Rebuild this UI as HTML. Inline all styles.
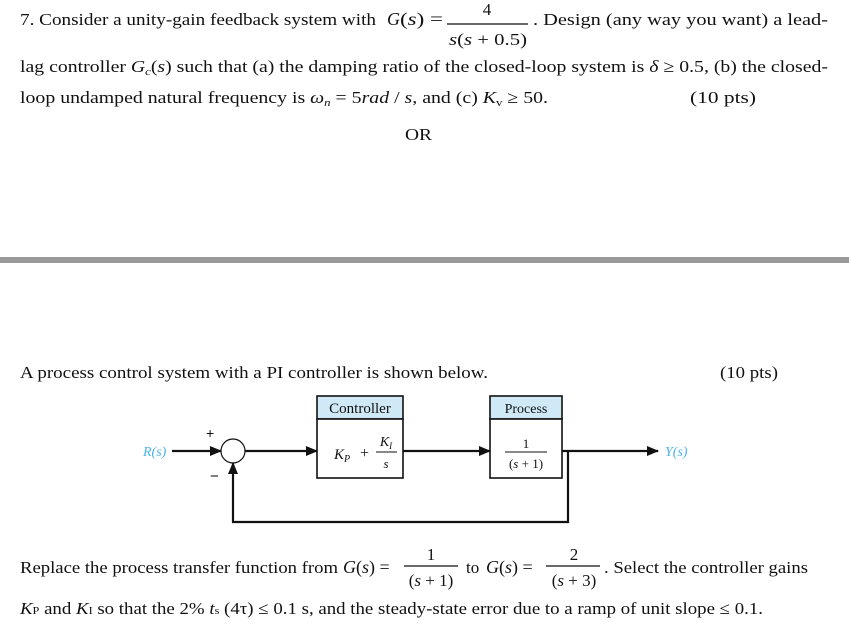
<!DOCTYPE html>
<html><head><meta charset="utf-8"><style>
html,body{margin:0;padding:0;background:#fff;}
svg{display:block;}
text{font-family:"Liberation Serif",serif;fill:#111;}
.i{font-style:italic;}
.s{font-family:"Liberation Sans",sans-serif;}
</style></head><body>
<svg width="849" height="627" viewBox="0 0 849 627" xmlns="http://www.w3.org/2000/svg">
<defs><marker id="a" markerWidth="12" markerHeight="10" refX="11" refY="5" orient="auto" markerUnits="userSpaceOnUse"><path d="M0,0 L12,5 L0,10z" fill="#111"/></marker></defs>
<!-- Problem 7 -->
<text x="20" y="25" font-size="17" textLength="356" lengthAdjust="spacingAndGlyphs">7. Consider a unity-gain feedback system with</text>
<text x="387" y="25" font-size="18" class="i">G</text><text x="400" y="25" font-size="18" textLength="43" lengthAdjust="spacingAndGlyphs">(<tspan class="i">s</tspan>) =</text>
<text x="487" y="15" font-size="17" text-anchor="middle">4</text>
<line x1="447" y1="24" x2="528" y2="24" stroke="#111" stroke-width="1.2"/>
<text x="449" y="45" font-size="17" textLength="78" lengthAdjust="spacingAndGlyphs"><tspan class="i">s</tspan>(<tspan class="i">s</tspan> + 0.5)</text>
<text x="533" y="25" font-size="17" textLength="295" lengthAdjust="spacingAndGlyphs">. Design (any way you want) a lead-</text>
<text x="20" y="72" font-size="17" textLength="808" lengthAdjust="spacingAndGlyphs">lag controller <tspan class="i">G</tspan><tspan class="i" font-size="11" dy="3">c</tspan><tspan dy="-3">(</tspan><tspan class="i">s</tspan>)  such that  (a) the damping ratio of the closed-loop system is  <tspan class="i">δ</tspan> ≥ 0.5,  (b) the closed-</text>
<text x="20" y="103" font-size="17" textLength="528" lengthAdjust="spacingAndGlyphs">loop undamped natural frequency is  <tspan class="i">ω</tspan><tspan class="i" font-size="11" dy="3">n</tspan><tspan dy="-3"> = 5</tspan><tspan class="i">rad</tspan> / <tspan class="i">s</tspan>,  and  (c) <tspan class="i">K</tspan><tspan font-size="11" dy="3">v</tspan><tspan dy="-3"> ≥ 50.</tspan></text>
<text x="690" y="103" font-size="17" textLength="66" lengthAdjust="spacingAndGlyphs">(10 pts)</text>
<text x="405" y="140" font-size="17" textLength="27" lengthAdjust="spacingAndGlyphs">OR</text>
<!-- separator -->
<rect x="0" y="257" width="849" height="6" fill="#9a9a9a"/>
<!-- PI problem -->
<text x="20" y="378" font-size="17" textLength="468" lengthAdjust="spacingAndGlyphs">A process control system with a PI controller is shown below.</text>
<text x="720" y="378" font-size="17" textLength="58" lengthAdjust="spacingAndGlyphs">(10 pts)</text>
<!-- diagram -->
<rect x="317" y="396" width="86" height="23" fill="#cfe9f6" stroke="#111" stroke-width="1.6"/>
<rect x="317" y="419" width="86" height="59" fill="#fff" stroke="#111" stroke-width="1.6"/>
<text x="360" y="413" font-size="15" text-anchor="middle">Controller</text>
<text x="334" y="459" font-size="15" class="i">K<tspan font-size="10" dy="3">P</tspan></text>
<text x="360" y="458" font-size="16">+</text>
<text x="386" y="446" font-size="14" class="i" text-anchor="middle">K<tspan font-size="9" dy="3">I</tspan></text>
<line x1="376" y1="452" x2="397" y2="452" stroke="#111" stroke-width="1"/>
<text x="386" y="468" font-size="13" class="i" text-anchor="middle">s</text>
<rect x="490" y="396" width="72" height="23" fill="#cfe9f6" stroke="#111" stroke-width="1.6"/>
<rect x="490" y="419" width="72" height="59" fill="#fff" stroke="#111" stroke-width="1.6"/>
<text x="526" y="413" font-size="14" text-anchor="middle">Process</text>
<text x="526" y="448" font-size="13" text-anchor="middle">1</text>
<line x1="505" y1="452" x2="547" y2="452" stroke="#111" stroke-width="1"/>
<text x="526" y="468" font-size="13" text-anchor="middle">(<tspan class="i">s</tspan> + 1)</text>
<circle cx="233" cy="451" r="12" fill="#fff" stroke="#111" stroke-width="1.2"/>
<text x="143" y="456" font-size="14" class="i" style="fill:#4ab3e8">R(s)</text>
<text x="665" y="456" font-size="14" class="i" style="fill:#4ab3e8">Y(s)</text>
<line x1="172" y1="451" x2="221" y2="451" stroke="#111" stroke-width="2.2" marker-end="url(#a)"/>
<line x1="245" y1="451" x2="317" y2="451" stroke="#111" stroke-width="2.2" marker-end="url(#a)"/>
<line x1="403" y1="451" x2="490" y2="451" stroke="#111" stroke-width="2.2" marker-end="url(#a)"/>
<line x1="562" y1="451" x2="658" y2="451" stroke="#111" stroke-width="2.2" marker-end="url(#a)"/>
<polyline points="568,451 568,522 233,522 233,463" fill="none" stroke="#111" stroke-width="2.2" marker-end="url(#a)"/>
<text x="206" y="438" font-size="14" class="s">+</text>
<text x="210" y="481" font-size="15" class="s">−</text>
<!-- bottom text -->
<text x="20" y="573" font-size="17" textLength="318" lengthAdjust="spacingAndGlyphs">Replace the process transfer function from</text>
<text x="343" y="573" font-size="18" class="i">G</text><text x="356" y="573" font-size="18">(<tspan class="i">s</tspan>) =</text>
<text x="431" y="560" font-size="17" text-anchor="middle">1</text>
<line x1="404" y1="566" x2="458" y2="566" stroke="#111" stroke-width="1.2"/>
<text x="431" y="586" font-size="17" text-anchor="middle">(<tspan class="i">s</tspan> + 1)</text>
<text x="466" y="573" font-size="17">to</text>
<text x="486" y="573" font-size="18" class="i">G</text><text x="499" y="573" font-size="18">(<tspan class="i">s</tspan>) =</text>
<text x="574" y="560" font-size="17" text-anchor="middle">2</text>
<line x1="546" y1="566" x2="600" y2="566" stroke="#111" stroke-width="1.2"/>
<text x="574" y="586" font-size="17" text-anchor="middle">(<tspan class="i">s</tspan> + 3)</text>
<text x="604" y="573" font-size="17" textLength="204" lengthAdjust="spacingAndGlyphs">. Select the controller gains</text>
<text x="20" y="614" font-size="17" textLength="743" lengthAdjust="spacingAndGlyphs"><tspan class="i">K</tspan><tspan font-size="11">P</tspan> and <tspan class="i">K</tspan><tspan font-size="11">I</tspan> so that the 2% <tspan class="i">t</tspan><tspan font-size="11">s</tspan> (4τ) ≤ 0.1 s, and the steady-state error due to a ramp of unit slope  ≤ 0.1.</text>
</svg>
</body></html>
